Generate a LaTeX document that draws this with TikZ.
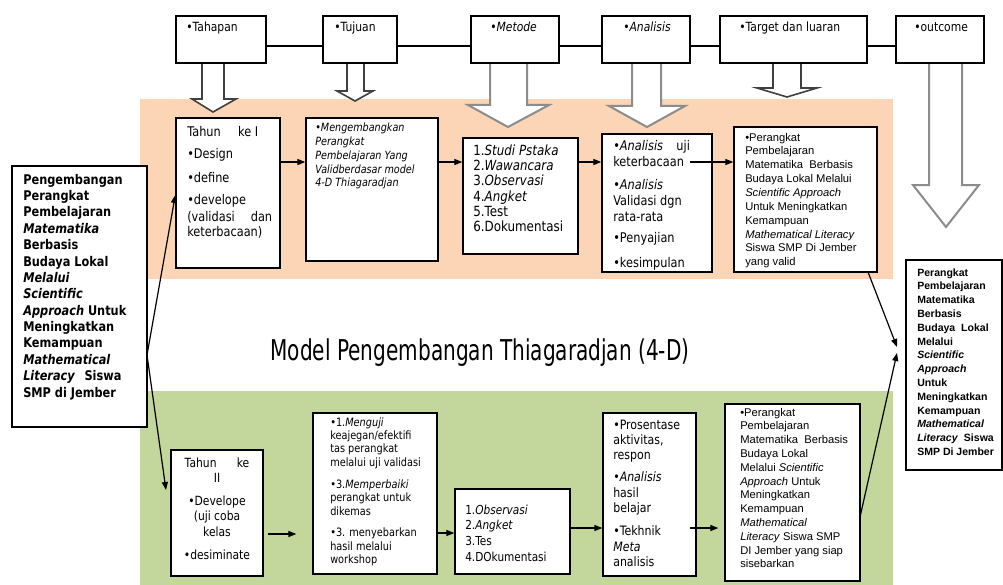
\documentclass[tikz,border=0pt]{standalone}
\usepackage{fontspec}
\setmainfont{DejaVu Sans}
\newfontfamily\cs{DejaVu Sans}[FakeStretch=0.85]
\newfontfamily\ttl{DejaVu Sans}[FakeStretch=0.7]
\newfontfamily\ar{Liberation Sans}
\usetikzlibrary{arrows.meta,fit}
\definecolor{orangeband}{HTML}{FBD5B5}
\definecolor{greenband}{HTML}{C3D69B}
\newcommand{\tl}[1]{\begin{tabular}[t]{@{}l@{}}#1\end{tabular}}
\newcommand{\tc}[1]{\begin{tabular}[t]{@{}c@{}}#1\end{tabular}}
\tikzset{
  box/.style={draw=black, line width=1pt, fill=white, inner sep=0pt},
  txt/.style={anchor=base west, inner sep=0pt},
  arr/.style={-{Triangle[length=6pt,width=4.5pt]}, line width=0.9pt},
  blkd/.style={draw=black!75, line width=1.2pt, fill=white},
  blkg/.style={draw=black!45, line width=1.5pt, fill=white},
  hline/.style={line width=1.1pt},
}
\begin{document}
\begin{tikzpicture}[x=0.75pt,y=-0.75pt]
\useasboundingbox (0,0) rectangle (1003,585);
\fill[white] (0,0) rectangle (1003,585);
% bands
\fill[orangeband] (140,99) rectangle (893,279);
\fill[greenband] (140,391) rectangle (893,585);

% block arrows
\draw[blkd] (202,63) -- (202,99) -- (192,99) -- (213,112) -- (236,99) -- (224,99) -- (224,63) -- cycle;
\draw[blkd] (347,63) -- (347,91) -- (337,91) -- (355,101) -- (373,91) -- (364,91) -- (364,63) -- cycle;
\draw[blkg] (490,63) -- (490,105) -- (468,105) -- (508,127) -- (549,105) -- (527,105) -- (527,63) -- cycle;
\draw[blkg] (632,63) -- (632,106) -- (609,106) -- (647,127) -- (685,106) -- (661,106) -- (661,63) -- cycle;
\draw[blkd] (773,63) -- (773,88) -- (757,88) -- (787,97) -- (817,88) -- (801,88) -- (801,63) -- cycle;
\draw[blkg] (929,63) -- (929,185) -- (913,185) -- (946,227) -- (979,185) -- (962,185) -- (962,63) -- cycle;

% header boxes
\node[box, fit={(176,16) (266,63)}] (H1) {};
\node[box, fit={(323,16) (397,63)}] (H2) {};
\node[box, fit={(471,16) (559,63)}] (H3) {};
\node[box, fit={(602,16) (690,63)}] (H4) {};
\node[box, fit={(720,16) (867,63)}] (H5) {};
\node[box, fit={(896,16) (984,63)}] (H6) {};
\coordinate (hy) at (0,46);
\draw[hline] (H1.east |- hy) -- (H2.west |- hy);
\draw[hline] (H2.east |- hy) -- (H3.west |- hy);
\draw[hline] (H3.east |- hy) -- (H4.west |- hy);
\draw[hline] (H4.east |- hy) -- (H5.west |- hy);
\draw[hline] (H5.east |- hy) -- (H6.west |- hy);
\begin{scope}[every node/.style={txt, font=\cs\fontsize{9.5}{11}\selectfont}]
\node (H1t) at (186,32) {•Tahapan};
\node (H2t) at (334,32) {•Tujuan};
\node (H3t) at (490,32) {•\textit{Metode}};
\node (H4t) at (623,32) {•\textit{Analisis}};
\node (H5t) at (739,32) {•Target dan luaran};
\node (H6t) at (914,32) {•outcome};
\end{scope}

% left box
\node[box, fit={(12,166) (147,427)}] (L) {};
\node[txt, font=\cs\bfseries\fontsize{10}{12.3}\selectfont] (Lt) at (23,184) {\tl{Pengembangan\\ Perangkat\\ Pembelajaran\\ \textit{Matematika}\\ Berbasis\\ Budaya Lokal\\ \textit{Melalui}\\ \textit{Scientific}\\ \textit{Approach} Untuk\\ Meningkatkan\\ Kemampuan\\ \textit{Mathematical}\\ \textit{Literacy}\hspace{0.7em}Siswa\\ SMP di Jember}};

% top row
\node[box, fit={(176,118) (280,268)}] (T1) {};
\node[box, fit={(306,118) (438,261)}] (T2) {};
\node[box, fit={(463,138) (578,254)}] (T3) {};
\node[box, fit={(602,134) (712,272)}] (T4) {};
\node[box, fit={(734,127) (877,272)}] (T5) {};

\node[txt, font=\cs\fontsize{10}{12}\selectfont] (T1t) at (187,137) {\tl{Tahun\hspace{1.3em}ke I\\[4.5pt] •Design\\[6pt] •define\\[4.5pt] •develope\\ (validasi\hspace{1.2em}dan\\ keterbacaan)}};
\node[txt, font=\cs\itshape\fontsize{8.5}{10.3}\selectfont] (T2t) at (315,132) {\tl{•Mengembangkan\\ Perangkat\\ Pembelajaran Yang\\ Validberdasar model\\ 4-D Thiagaradjan}};
\node[txt, font=\cs\fontsize{10.5}{11.5}\selectfont] (T3t) at (473,155) {\tl{1.\textit{Studi Pstaka}\\ 2.\textit{Wawancara}\\ 3.\textit{Observasi}\\ 4.\textit{Angket}\\ 5.Test\\ 6.Dokumentasi}};
\node[txt, font=\cs\fontsize{10}{12}\selectfont] (T4t) at (613,150) {\tl{•\textit{Analisis}\hspace{1em}uji\\ keterbacaan\\[5.25pt] •\textit{Analisis}\\ Validasi dgn\\ rata-rata\\[4.5pt] •Penyajian\\[6pt] •kesimpulan}};
\node[txt, font=\ar\fontsize{8.4}{10.4}\selectfont] (T5t) at (745,141) {\tl{•Perangkat\\ Pembelajaran\\ Matematika\ \ Berbasis\\ Budaya Lokal Melalui\\ \textit{Scientific Approach}\\ Untuk Meningkatkan\\ Kemampuan\\ \textit{Mathematical Literacy}\\ Siswa SMP Di Jember\\ yang valid}};

\coordinate (ty) at (0,162);
\coordinate (k1) at (690,162);
\draw[arr] (T1.east |- ty) -- (T2.west |- ty);
\draw[arr] (T2.east |- ty) -- (T3.west |- ty);
\draw[arr] (T3.east |- ty) -- (T4.west |- ty);
\draw[arr] (k1) -- (T5.west |- ty);

% title
\node[anchor=base, inner sep=0pt, font=\ttl\fontsize{21.5}{24}\selectfont] (title) at (480,360) {Model Pengembangan Thiagaradjan (4-D)};

% bottom row
\node[box, fit={(171,450) (263,576)}] (B1) {};
\node[box, fit={(313,413) (437,574)}] (B2) {};
\node[box, fit={(455,489) (570,574)}] (B3) {};
\node[box, fit={(603,413) (696,576)}] (B4) {};
\node[box, fit={(725,404) (860,581)}] (B5) {};

\node[anchor=base, inner sep=0pt, font=\cs\fontsize{9.5}{11.6}\selectfont] (B1t) at (217,467) {\tc{Tahun\hspace{1.6em}ke\\ II\\[5.6pt] •Develope\\ (uji coba\\ kelas\\[5.6pt] •desiminate}};
\node[txt, font=\cs\fontsize{8.6}{10.1}\selectfont] (B2t) at (330,426) {\tl{•1.\textit{Menguji}\\ keajegan/efektifi\\ tas perangkat\\ melalui uji validasi\\[6.4pt] •3.\textit{Memperbaiki}\\ perangkat untuk\\ dikemas\\[6pt] •3. menyebarkan\\ hasil melalui\\ workshop}};
\node[txt, font=\cs\fontsize{9.3}{11.8}\selectfont] (B3t) at (465,514) {\tl{1.\textit{Observasi}\\ 2.\textit{Angket}\\ 3.Tes\\ 4.DOkumentasi}};
\node[txt, font=\cs\fontsize{9.7}{11.6}\selectfont] (B4t) at (613,429) {\tl{•Prosentase\\ aktivitas,\\ respon\\[4.9pt] •\textit{Analisis}\\ hasil\\ belajar\\[5.5pt] •Tekhnik\\ \textit{Meta}\\ analisis}};
\node[txt, font=\ar\fontsize{8.4}{10.35}\selectfont] (B5t) at (740,416) {\tl{•Perangkat\\ Pembelajaran\\ Matematika\ \ Berbasis\\ Budaya Lokal\\ Melalui \textit{Scientific}\\ \textit{Approach} Untuk\\ Meningkatkan\\ Kemampuan\\ \textit{Mathematical}\\ \textit{Literacy} Siswa SMP\\ DI Jember yang siap\\ sisebarkan}};

\coordinate (by1) at (0,534);
\coordinate (by2) at (0,533);
\coordinate (by3) at (0,528);
\coordinate (k2) at (690,528);
\draw[arr, shorten <=3pt, shorten >=12pt] (B1.east |- by1) -- (B2.west |- by1);
\draw[arr] (B2.east |- by2) -- (B3.west |- by2);
\draw[arr] (B3.east |- by3) -- (B4.west |- by3);
\draw[arr, shorten >=4.5pt] (k2) -- (B5.west |- by3);

% right box
\node[box, fit={(906,260) (1002,470)}] (R) {};
\node[txt, font=\ar\bfseries\fontsize{7.9}{10.35}\selectfont] (Rt) at (917,276) {\tl{Perangkat\\ Pembelajaran\\ Matematika\\ Berbasis\\ Budaya\ \ Lokal\\ Melalui\\ \textit{Scientific}\\ \textit{Approach}\\ Untuk\\ Meningkatkan\\ Kemampuan\\ \textit{Mathematical}\\ \textit{Literacy}\ \ Siswa\\ SMP Di Jember}};

% left connectors
\coordinate (ls) at (147,355);
\coordinate (ly1) at (0,195);
\coordinate (le2) at (166,490);
\draw[arr] (ls) -- (T1.west |- ly1);
\draw[arr] (ls) -- (le2);

% right connectors
\coordinate (rs1) at (868,272);
\coordinate (re1) at (897,347);
\coordinate (rs2) at (860,517);
\coordinate (re2) at (897,353);
\draw[arr] (rs1) -- (re1);
\draw[arr] (rs2) -- (re2);
\end{tikzpicture}
\end{document}
